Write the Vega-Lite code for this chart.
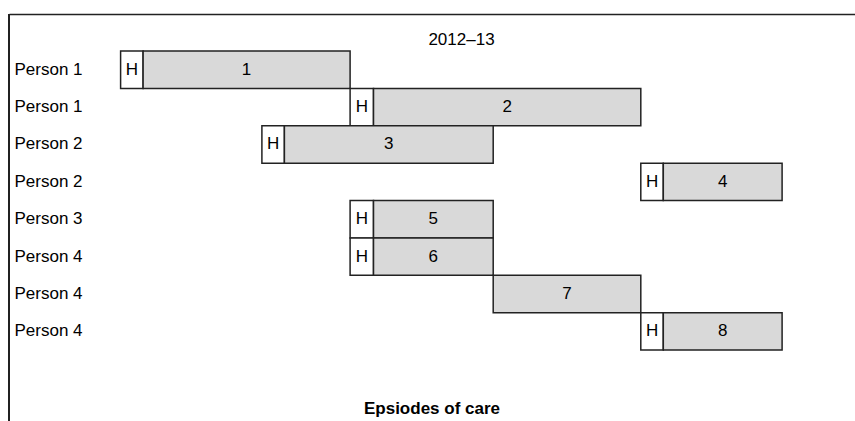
{
  "$schema": "https://vega.github.io/schema/vega-lite/v6.json",
  "width": 846,
  "height": 407,
  "autosize": {"type": "none"},
  "padding": {"left": 9, "top": 14, "right": 0, "bottom": 0},
  "config": {
    "view": {"stroke": null},
    "font": "Liberation Sans",
    "title": {"font": "Liberation Sans"},
    "axisX": {
      "orient": "top",
      "domain": true,
      "domainColor": "#222",
      "domainWidth": 1.5,
      "ticks": false,
      "labels": false,
      "grid": false,
      "titleX": 452,
      "titleY": 25,
      "titleBaseline": "middle",
      "titleFontWeight": "normal",
      "titleFontSize": 17,
      "titleColor": "#000"
    }
  },
  "title": {
    "text": "Epsiodes of care",
    "orient": "bottom",
    "anchor": "middle",
    "frame": "group",
    "offset": -21,
    "fontSize": 17,
    "fontWeight": "bold",
    "color": "#000"
  },
  "data": {
    "values": [
      {"row": 1, "person": "Person 1", "kind": "H", "from": 12.4, "to": 14.9, "label": "H"},
      {"row": 1, "person": "Person 1", "kind": "E", "from": 14.9, "to": 37.9, "label": "1"},
      {"row": 2, "person": "Person 1", "kind": "H", "from": 37.9, "to": 40.5, "label": "H"},
      {"row": 2, "person": "Person 1", "kind": "E", "from": 40.5, "to": 70.2, "label": "2"},
      {"row": 3, "person": "Person 2", "kind": "H", "from": 28.1, "to": 30.6, "label": "H"},
      {"row": 3, "person": "Person 2", "kind": "E", "from": 30.6, "to": 53.8, "label": "3"},
      {"row": 4, "person": "Person 2", "kind": "H", "from": 70.2, "to": 72.7, "label": "H"},
      {"row": 4, "person": "Person 2", "kind": "E", "from": 72.7, "to": 85.9, "label": "4"},
      {"row": 5, "person": "Person 3", "kind": "H", "from": 37.9, "to": 40.5, "label": "H"},
      {"row": 5, "person": "Person 3", "kind": "E", "from": 40.5, "to": 53.8, "label": "5"},
      {"row": 6, "person": "Person 4", "kind": "H", "from": 37.9, "to": 40.5, "label": "H"},
      {"row": 6, "person": "Person 4", "kind": "E", "from": 40.5, "to": 53.8, "label": "6"},
      {"row": 7, "person": "Person 4", "kind": "E", "from": 53.8, "to": 70.2, "label": "7"},
      {"row": 8, "person": "Person 4", "kind": "H", "from": 70.2, "to": 72.7, "label": "H"},
      {"row": 8, "person": "Person 4", "kind": "E", "from": 72.7, "to": 85.9, "label": "8"}
    ]
  },
  "layer": [
    {
      "mark": {"type": "rule", "stroke": "#222", "strokeWidth": 1.5},
      "encoding": {
        "x": {"datum": 0, "type": "quantitative", "scale": {"domain": [0, 94], "nice": false, "zero": false}, "title": "2012–13"}
      }
    },
    {
      "mark": {"type": "bar", "stroke": "#222", "strokeWidth": 1.5},
      "encoding": {
        "y": {
          "field": "row",
          "type": "ordinal",
          "scale": {"range": [37, 336], "paddingInner": 0, "paddingOuter": 0},
          "axis": {
            "title": null,
            "domain": false,
            "ticks": false,
            "grid": false,
            "labelAlign": "left",
            "labelPadding": -5,
            "labelFontSize": 17,
            "labelColor": "#000",
            "labelExpr": "['', 'Person 1', 'Person 1', 'Person 2', 'Person 2', 'Person 3', 'Person 4', 'Person 4', 'Person 4'][datum.value]"
          }
        },
        "x": {"field": "from", "type": "quantitative", "title": "2012–13"},
        "x2": {"field": "to"},
        "fill": {
          "field": "kind",
          "type": "nominal",
          "scale": {"domain": ["H", "E"], "range": ["#ffffff", "#d9d9d9"]},
          "legend": null
        }
      }
    },
    {
      "transform": [{"calculate": "(datum.from + datum.to) / 2", "as": "mid"}],
      "mark": {"type": "text", "fontSize": 17, "color": "#000", "baseline": "middle"},
      "encoding": {
        "y": {"field": "row", "type": "ordinal"},
        "x": {"field": "mid", "type": "quantitative", "title": "2012–13"},
        "text": {"field": "label"}
      }
    }
  ]
}
